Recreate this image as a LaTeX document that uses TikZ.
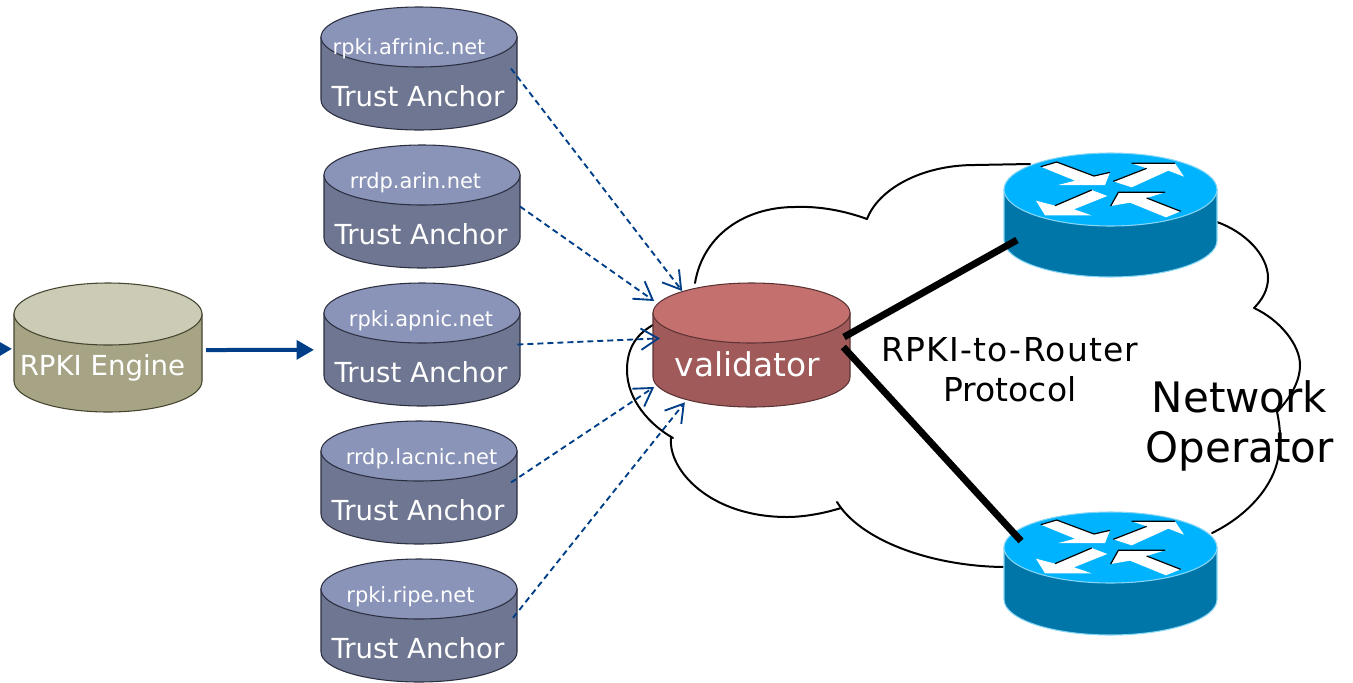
\documentclass[tikz,border=0pt]{standalone}
\usepackage{fontspec}
\setmainfont{DejaVu Sans}
\usetikzlibrary{arrows.meta}
\definecolor{taTop}{HTML}{8A94B8}
\definecolor{taSide}{HTML}{6E7691}
\definecolor{taEdge}{HTML}{2C2F40}
\definecolor{enTop}{HTML}{CCCCB6}
\definecolor{enSide}{HTML}{A6A484}
\definecolor{enEdge}{HTML}{45452F}
\definecolor{vaTop}{HTML}{C4706E}
\definecolor{vaSide}{HTML}{A05A5A}
\definecolor{vaEdge}{HTML}{5C3333}
\definecolor{roTop}{HTML}{00B3FF}
\definecolor{roSide}{HTML}{0076A8}
\definecolor{roEdge}{HTML}{86D6F5}
\definecolor{linkBlue}{HTML}{003F87}
% #1 name, #2 cx, #3 top-ellipse cy, #4 rx, #5 ry, #6 height, #7 top, #8 side, #9 edge
\newcommand\cylshape[9]{%
  \path[fill=#8,draw=#9,line width=.8pt]
    (#2-#4,#3) -- (#2-#4,#3+#6)
    arc[start angle=180,end angle=0,x radius=#4*.75pt,y radius=#5*.75pt]
    -- (#2+#4,#3) -- cycle;
  \path[fill=#7,draw=#9,line width=.8pt] (#2,#3) ellipse[x radius=#4*.75pt,y radius=#5*.75pt];
  \node[inner sep=0pt,outer sep=0pt,minimum width=2*#4*.75pt,minimum height=(2*#5+#6)*.75pt] (#1) at (#2,#3+#6/2) {};
}
\newcommand\routerarrows[2]{%
  \begin{scope}[shift={(#1,#2)},x=.25pt,y=.25pt]
    \fill[white] (152,80)--(200,66)--(312,108)--(360,97)--(345,135)--(205,135)--(255,122)--cycle;
    \fill[white] (370,124)--(470,85)--(425,70)--(555,70)--(582,110)--(535,92)--(425,142)--cycle;
    \fill[white] (138,182)--(195,197)--(305,150)--(352,168)--(252,208)--(305,226)--(165,226)--cycle;
    \fill[white] (362,198)--(385,157)--(525,157)--(470,174)--(572,214)--(528,232)--(420,188)--cycle;
    \draw[black,line width=.9pt] (152,80)--(200,66)--(312,108)--(360,97);
    \draw[black,line width=.9pt] (370,124)--(470,85) (425,70)--(555,70);
    \draw[black,line width=.9pt] (195,197)--(305,150);
    \draw[black,line width=.9pt] (362,198)--(385,157)--(525,157) (470,174)--(572,214);
  \end{scope}
}
\tikzset{
  cloudline/.style={black,line width=1.5pt,line join=round,line cap=round},
  dashlink/.style={draw=linkBlue,line width=1.4pt,dash pattern=on 4.5pt off 3pt,
    -{Straight Barb[length=13pt,width=16pt,line width=1.4pt]}},
  feedlink/.style={draw=linkBlue,line width=3pt,-{Triangle[length=13pt,width=14pt]}},
  rtrlink/.style={black,line width=5.2pt},
  cyltext/.style={text=white,inner sep=0pt,font=\fontsize{20.7pt}{24pt}\selectfont},
  urltext/.style={text=white,inner sep=0pt,font=\fontsize{15.7pt}{18pt}\selectfont},
  labeltext/.style={text=black,inner sep=0pt,align=center},
}
\begin{document}
\begin{tikzpicture}[x=.75pt,y=.75pt,yscale=-1]
\useasboundingbox (0,0) rectangle (1353,682);
% cloud
\draw[cloudline] (695,283) .. controls (703,235) and (745,207) .. (795,207)
  .. controls (820,206) and (845,211) .. (867,219);
\draw[cloudline] (867,219) .. controls (878,190) and (920,165) .. (975,165) -- (1030,164);
\draw[cloudline] (1217,222) .. controls (1245,232) and (1268,255) .. (1268,278)
  .. controls (1268,290) and (1262,300) .. (1254,308);
\draw[cloudline] (1254,308) .. controls (1280,320) and (1300,345) .. (1300,365)
  .. controls (1300,382) and (1290,398) .. (1277,412);
\draw[cloudline] (1277,412) .. controls (1281,430) and (1281,445) .. (1277,463)
  .. controls (1270,490) and (1245,517) .. (1212,533);
\draw[cloudline] (653,325) .. controls (635,335) and (627,350) .. (627,370)
  .. controls (627,400) and (650,425) .. (673,438);
\draw[cloudline] (671,438) .. controls (668,470) and (710,517) .. (787,517)
  .. controls (805,517) and (825,513) .. (841,508);
\draw[cloudline] (837,502) .. controls (860,540) and (930,566) .. (1003,567);
% cylinders
\cylshape{ta1}{419}{37}{98}{30}{63}{taTop}{taSide}{taEdge}
\cylshape{ta2}{422}{175}{98}{30}{63}{taTop}{taSide}{taEdge}
\cylshape{ta3}{422}{313}{98}{30}{63}{taTop}{taSide}{taEdge}
\cylshape{ta4}{419}{451}{98}{30}{63}{taTop}{taSide}{taEdge}
\cylshape{ta5}{419}{589}{98}{30}{63}{taTop}{taSide}{taEdge}
\cylshape{engine}{108}{314}{94}{31}{67}{enTop}{enSide}{enEdge}
\cylshape{validator}{751.5}{313}{98.5}{30}{64}{vaTop}{vaSide}{vaEdge}
\cylshape{router1}{1110.5}{189.5}{106.5}{36.5}{51}{roTop}{roSide}{roEdge}
\cylshape{router2}{1110.5}{547.5}{106.5}{35.5}{52}{roTop}{roSide}{roEdge}
\routerarrows{990}{140}
\routerarrows{990}{498}
% texts
\node[urltext] (u1) at (409,49) {rpki.afrinic.net};
\node[cyltext] (l1) at (418,96) {Trust Anchor};
\node[urltext] (u2) at (415.5,183) {rrdp.arin.net};
\node[cyltext] (l2) at (421,234) {Trust Anchor};
\node[urltext] (u3) at (421,321) {rpki.apnic.net};
\node[cyltext] (l3) at (421,372) {Trust Anchor};
\node[urltext] (u4) at (421.5,459) {rrdp.lacnic.net};
\node[cyltext] (l4) at (418,510) {Trust Anchor};
\node[urltext] (u5) at (410.5,597) {rpki.ripe.net};
\node[cyltext] (l5) at (418,648) {Trust Anchor};
\node[cyltext] (le) at (102.5,368) {RPKI Engine};
\node[cyltext,font=\fontsize{24.6pt}{28pt}\selectfont] (lv) at (747.5,364) {validator};
\node[labeltext,font=\fontsize{24.7pt}{30pt}\selectfont] (proto) at (1010,370) {\addfontfeatures{LetterSpace=3.7}RPKI-to-Router\\Protocol};
\node[labeltext,font=\fontsize{31.5pt}{37.5pt}\selectfont] (netop) at (1239.5,426) {Network\\Operator};
% connectors
\coordinate (stub) at (-6,349);
\draw[feedlink] (stub) -- ([xshift=-1.5pt,yshift=1pt]engine.west);
\draw[feedlink] ([xshift=3pt,yshift=1.9pt]engine.east) -- ([xshift=-7.5pt,yshift=4pt]ta3.west);
\draw[dashlink] ([xshift=-4.5pt]ta1.east) -- ([xshift=-52pt,yshift=-40.5pt]validator.center);
\draw[dashlink] (ta2.east) -- ([xshift=-73pt,yshift=-33pt]validator.center);
\draw[dashlink] ([xshift=-2pt]ta3.east) -- ([xshift=-68.6pt,yshift=-5pt]validator.center);
\draw[dashlink] ([xshift=-4.5pt]ta4.east) -- ([xshift=-73pt,yshift=31.5pt]validator.center);
\draw[dashlink] ([xshift=-3pt,yshift=-2pt]ta5.east) -- ([xshift=-50pt,yshift=43pt]validator.center);
\draw[rtrlink] ([xshift=-4.5pt,yshift=-6pt]validator.east) -- ([xshift=9.75pt,yshift=18.75pt]router1.west);
\draw[rtrlink] ([xshift=-5pt,yshift=1.5pt]validator.east) -- ([xshift=12.75pt,yshift=-24.4pt]router2.west);
\end{tikzpicture}
\end{document}
